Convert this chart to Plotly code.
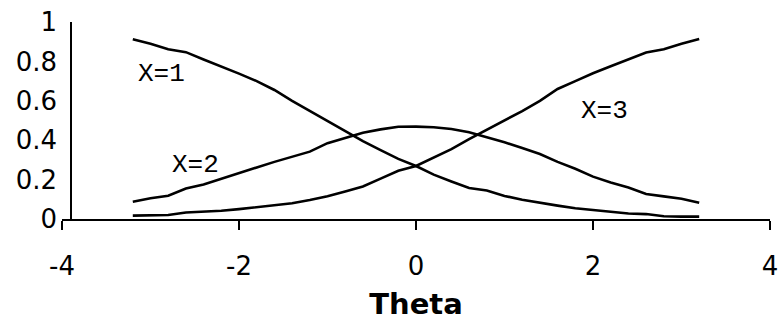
import plotly.graph_objects as go

# Theta grid (x values)
theta = [-3.2, -3.0, -2.8, -2.6, -2.4, -2.2, -2.0, -1.8, -1.6, -1.4, -1.2, -1.0,
         -0.8, -0.6, -0.4, -0.2, 0.0, 0.2, 0.4, 0.6, 0.8, 1.0, 1.2, 1.4, 1.6,
         1.8, 2.0, 2.2, 2.4, 2.6, 2.8, 3.0, 3.2]

# Category response probabilities
p_x1 = [0.912, 0.890, 0.862, 0.847, 0.810, 0.775, 0.738, 0.700, 0.655, 0.600,
        0.548, 0.497, 0.445, 0.395, 0.350, 0.305, 0.269, 0.225, 0.190, 0.157,
        0.145, 0.117, 0.098, 0.082, 0.068, 0.055, 0.045, 0.037, 0.028, 0.025,
        0.014, 0.012, 0.012]
p_x2 = [0.088, 0.105, 0.118, 0.155, 0.175, 0.205, 0.232, 0.262, 0.290, 0.315,
        0.342, 0.385, 0.410, 0.438, 0.455, 0.468, 0.469, 0.466, 0.457, 0.440,
        0.415, 0.390, 0.360, 0.330, 0.290, 0.255, 0.215, 0.185, 0.160, 0.127,
        0.115, 0.103, 0.083]
p_x3 = [0.017, 0.017, 0.020, 0.033, 0.037, 0.042, 0.050, 0.060, 0.068, 0.080,
        0.096, 0.115, 0.140, 0.165, 0.205, 0.245, 0.269, 0.310, 0.355, 0.405,
        0.452, 0.500, 0.548, 0.600, 0.660, 0.700, 0.740, 0.775, 0.810, 0.845,
        0.862, 0.890, 0.914]

series_names = ["X=1", "X=2", "X=3"]
label_x = [-2.88, -2.49, 2.13]
label_y = [0.736, 0.272, 0.548]

x_tickvals = [-4, -2, 0, 2, 4]
x_ticktext = ["-4", "-2", "0", "2", "4"]
y_tickvals = [0, 0.2, 0.4, 0.6, 0.8, 1.0]
y_ticktext = ["0", "0.2", "0.4", "0.6", "0.8", "1"]
x_title = "Theta"

fig = go.Figure()
for name, ys in zip(series_names, [p_x1, p_x2, p_x3]):
    fig.add_trace(go.Scatter(x=theta, y=ys, mode="lines", name=name,
                             line=dict(color="black", width=2.6),
                             showlegend=False))

for name, lx, ly in zip(series_names, label_x, label_y):
    fig.add_annotation(x=lx, y=ly, xref="x", yref="y", text=name,
                       showarrow=False,
                       font=dict(family="Liberation Mono, Courier New, monospace",
                                 size=26, color="black"))

fig.update_layout(
    width=780, height=321,
    margin=dict(l=62, r=10, t=22, b=102),
    paper_bgcolor="white", plot_bgcolor="white",
    showlegend=False,
    xaxis=dict(range=[-4, 4], tickvals=x_tickvals, ticktext=x_ticktext,
               ticks="outside", ticklen=9, tickwidth=1.5, tickcolor="black",
               showline=True, linecolor="black", linewidth=1.5,
               showgrid=False, zeroline=False, automargin=False,
               ticklabelstandoff=14,
               tickfont=dict(family="DejaVu Sans", size=26, color="black"),
               title=dict(text=x_title, standoff=15,
                          font=dict(family="DejaVu Sans", size=29,
                                    color="black", weight="bold"))),
    yaxis=dict(range=[0, 1], tickvals=y_tickvals, ticktext=y_ticktext,
               anchor="free", position=0.0127,
               ticks="", showline=True, linecolor="black", linewidth=1.5,
               showgrid=False, zeroline=False, automargin=False,
               ticklabelstandoff=8,
               tickfont=dict(family="DejaVu Sans", size=26, color="black")),
)

fig.write_html("out.html",
               config={"displayModeBar": False},
               post_script="document.body.style.margin='0';"
                           "document.body.style.overflow='hidden';")
